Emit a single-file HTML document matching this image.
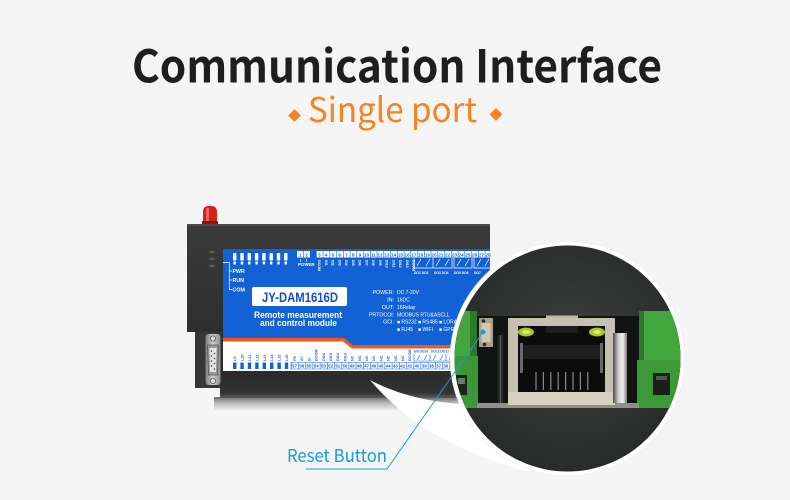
<!DOCTYPE html>
<html><head><meta charset="utf-8">
<style>
html,body{margin:0;padding:0;background:#f5f5f5;}
svg{display:block}
</style></head>
<body>
<svg width="790" height="500" viewBox="0 0 790 500" xmlns="http://www.w3.org/2000/svg">
<defs>
<linearGradient id="hous" x1="0" y1="0" x2="0" y2="1"><stop offset="0" stop-color="#3a3a3a"/><stop offset="1" stop-color="#272727"/></linearGradient>
<linearGradient id="band" x1="0" y1="0" x2="0" y2="1"><stop offset="0" stop-color="#2a2a2a"/><stop offset="0.8" stop-color="#333"/><stop offset="1" stop-color="#5a5a5a"/></linearGradient>
<linearGradient id="shd" x1="0" y1="0" x2="0" y2="1"><stop offset="0" stop-color="#6a6a6a"/><stop offset="0.4" stop-color="#b5b5b5"/><stop offset="1" stop-color="#f5f5f5"/></linearGradient>
<radialGradient id="inbg" cx="0.5" cy="0.45" r="0.55"><stop offset="0" stop-color="#3c3f3e"/><stop offset="1" stop-color="#262827"/></radialGradient>
<linearGradient id="metal" x1="0" y1="0" x2="1" y2="0"><stop offset="0" stop-color="#4a4a4a"/><stop offset="0.4" stop-color="#d0d0d0"/><stop offset="0.7" stop-color="#f0f0f0"/><stop offset="1" stop-color="#7a7a7a"/></linearGradient>
<linearGradient id="db" x1="0" y1="0" x2="1" y2="0"><stop offset="0" stop-color="#7d7d7d"/><stop offset="0.5" stop-color="#d0d0d0"/><stop offset="1" stop-color="#8a8a8a"/></linearGradient>
<pattern id="pt" x="316" y="0" width="6.75" height="10" patternUnits="userSpaceOnUse"><rect x="0" y="0" width="0.6" height="10" fill="#1262d6"/></pattern>
<pattern id="pb" x="291" y="0" width="7.2" height="10" patternUnits="userSpaceOnUse"><rect x="0" y="0" width="0.6" height="10" fill="#1262d6"/></pattern>
<clipPath id="cc"><circle cx="567.5" cy="358.5" r="113"/></clipPath>
</defs>
<rect width="790" height="500" fill="#f5f5f5"/>

<!-- Title -->
<text x="132" y="82.5" font-family="'Noto Sans CJK SC','Liberation Sans',sans-serif" font-weight="bold" font-size="45" fill="#1e1e1e" textLength="530" lengthAdjust="spacingAndGlyphs">Communication Interface</text>
<text x="308" y="122" font-family="'Noto Sans CJK SC','Liberation Sans',sans-serif" font-size="34" fill="#f7821f" textLength="169" lengthAdjust="spacingAndGlyphs">Single port</text>
<rect x="-4.5" y="-4.5" width="9" height="9" transform="translate(294.5,115.5) rotate(45)" fill="#f7821f"/>
<rect x="-4.5" y="-4.5" width="9" height="9" transform="translate(496,114.5) rotate(45)" fill="#f7821f"/>

<!-- Device shadow -->
<rect x="214" y="397" width="280" height="14" fill="url(#shd)"/>
<!-- antenna -->
<rect x="203" y="206" width="14" height="19" rx="5" fill="#d61f1b"/>
<rect x="206" y="208" width="3" height="15" fill="#f27366" opacity="0.8"/>
<rect x="202" y="221" width="16" height="4" fill="#8a1412"/>
<!-- housing -->
<path d="M187,224 H490 V398 H220 V388 H195 V332 H187 Z" fill="url(#hous)"/>
<rect x="187" y="224" width="303" height="2" fill="#4a4a4a"/>
<rect x="195" y="332" width="26" height="56" fill="#363636"/>
<rect x="220" y="371" width="270" height="27" fill="url(#band)"/>
<ellipse cx="212" cy="252" rx="3" ry="1.4" fill="#5a5a5a"/>
<ellipse cx="212" cy="259" rx="3" ry="1.4" fill="#5a5a5a"/>
<ellipse cx="212" cy="266" rx="3" ry="1.4" fill="#5a5a5a"/>
<!-- DB9 -->
<rect x="205.5" y="334" width="15" height="51" rx="3" fill="url(#db)"/>
<path d="M207.5,345 H218.5 L217.5,375 H208.5 Z" fill="#9a9a9a" stroke="#555" stroke-width="0.8"/>
<path d="M209.5,348 H216.5 L216,372 H210 Z" fill="#e4e4e4"/>
<g fill="#444"><circle cx="211.5" cy="351" r="0.8"/><circle cx="211.5" cy="356" r="0.8"/><circle cx="211.5" cy="361" r="0.8"/><circle cx="211.5" cy="366" r="0.8"/><circle cx="214.5" cy="353.5" r="0.8"/><circle cx="214.5" cy="358.5" r="0.8"/><circle cx="214.5" cy="363.5" r="0.8"/><circle cx="214.5" cy="369" r="0.8"/></g>
<circle cx="213" cy="338.5" r="2.6" fill="#ddd" stroke="#555" stroke-width="0.8"/>
<circle cx="213" cy="381" r="2.6" fill="#ddd" stroke="#555" stroke-width="0.8"/>

<!-- blue panel -->
<path d="M223,249 H490 V345 H353 L344,338 H223 Z" fill="#1262d6"/>
<path d="M223,338 H344 L353,345 H490 V348.5 H352 L343,341.5 H223 Z" fill="#f2581b"/>
<path d="M223,341.5 H343 L352,348.5 H490 V371 H223 Z" fill="#ffffff"/>

<!-- top LED marks -->
<g fill="#fff">
<rect x="233" y="253" width="3.4" height="7.5" rx="0.8"/><rect x="240.3" y="253" width="3.4" height="7.5" rx="0.8"/><rect x="247.6" y="253" width="3.4" height="7.5" rx="0.8"/><rect x="254.9" y="253" width="3.4" height="7.5" rx="0.8"/><rect x="262.2" y="253" width="3.4" height="7.5" rx="0.8"/><rect x="269.5" y="253" width="3.4" height="7.5" rx="0.8"/><rect x="276.8" y="253" width="3.4" height="7.5" rx="0.8"/><rect x="284.1" y="253" width="3.4" height="7.5" rx="0.8"/>
<rect x="233.5" y="261.5" width="2.4" height="3" /><rect x="240.8" y="261.5" width="2.4" height="3"/><rect x="248.1" y="261.5" width="2.4" height="3"/><rect x="255.4" y="261.5" width="2.4" height="3"/><rect x="262.7" y="261.5" width="2.4" height="3"/><rect x="270" y="261.5" width="2.4" height="3"/><rect x="277.3" y="261.5" width="2.4" height="3"/><rect x="284.6" y="261.5" width="2.4" height="3"/>
</g>
<path d="M223,262.5 H229.3 V290 M229.3,271 H232 M229.3,280 H232 M229.3,289.5 H232" stroke="#fff" stroke-width="0.7" fill="none"/>
<g font-family="'Liberation Sans',sans-serif" font-weight="bold" font-size="5.3" fill="#fff">
<text x="232.5" y="273">PWR</text><text x="232.5" y="282">RUN</text><text x="232.5" y="291.5">COM</text>
</g>

<!-- top terminal boxes -->
<rect x="297" y="251" width="13" height="6.5" fill="#fff"/>
<rect x="303.2" y="251" width="0.6" height="6.5" fill="#1262d6"/>
<rect x="316" y="251" width="174" height="6.5" fill="#fff"/>
<rect x="316" y="251" width="174" height="6.5" fill="url(#pt)"/>
<text font-family="'Liberation Sans',sans-serif" font-weight="bold" font-size="4.6" fill="#1262d6" text-anchor="middle" y="256.4"><tspan x="300.2">1</tspan><tspan x="306.6">2</tspan><tspan x="319.4">3</tspan><tspan x="326.1">4</tspan><tspan x="332.9">5</tspan><tspan x="339.6">6</tspan><tspan x="346.4">7</tspan><tspan x="353.1">8</tspan><tspan x="359.9">9</tspan><tspan x="366.6">10</tspan><tspan x="373.4">11</tspan><tspan x="380.1">12</tspan><tspan x="386.9">13</tspan><tspan x="393.6">14</tspan><tspan x="400.4">15</tspan><tspan x="407.1">16</tspan><tspan x="413.9">17</tspan><tspan x="420.6">18</tspan><tspan x="427.4">19</tspan><tspan x="434.1">20</tspan><tspan x="440.9">21</tspan><tspan x="447.6">22</tspan><tspan x="454.4">23</tspan><tspan x="461.1">24</tspan><tspan x="467.9">25</tspan><tspan x="474.6">26</tspan><tspan x="481.4">27</tspan><tspan x="488.1">28</tspan></text>
<text x="298" y="266" font-family="'Liberation Sans',sans-serif" font-weight="bold" font-size="4.4" fill="#fff">POWER</text>
<path d="M300.5,259 V262 M306.5,259 V262" stroke="#fff" stroke-width="0.6"/>
<g font-family="'Liberation Sans',sans-serif" font-weight="bold" font-size="3.6" fill="#fff">
<text transform="translate(318,260) rotate(90)">DCOM</text>
<text transform="translate(324.8,260) rotate(90)">DI1</text>
<text transform="translate(331.6,260) rotate(90)">DI2</text>
<text transform="translate(338.3,260) rotate(90)">DI3</text>
<text transform="translate(345.1,260) rotate(90)">DI4</text>
<text transform="translate(351.8,260) rotate(90)">DI5</text>
<text transform="translate(358.6,260) rotate(90)">DI6</text>
<text transform="translate(365.3,260) rotate(90)">DI7</text>
<text transform="translate(372.1,260) rotate(90)">DI8</text>
<text transform="translate(378.8,260) rotate(90)">DI9</text>
<text transform="translate(385.6,260) rotate(90)">DI10</text>
<text transform="translate(392.3,260) rotate(90)">DI11</text>
<text transform="translate(399.1,260) rotate(90)">DI12</text>
<text transform="translate(405.8,260) rotate(90)">DI13</text>
<text transform="translate(412.6,260) rotate(90)">DCOM</text>
</g>
<!-- relay symbols top -->
<g stroke="#fff" stroke-width="0.7" fill="none">
<path d="M414,258 V268 H433 V258 M433,268 H452 V258 M454,258 V268 H472 V258 M474,258 V268 H490"/>
<path d="M417,266 L421,259 M426,266 L430,259 M436,266 L440,259 M445,266 L449,259 M457,266 L461,259 M465,266 L469,259 M477,266 L481,259 M485,266 L489,259"/>
</g>
<g font-family="'Liberation Sans',sans-serif" font-weight="bold" font-size="3.3" fill="#fff">
<text x="414" y="274">DO1 DO2</text><text x="434" y="274">DO3 DO4</text><text x="454" y="274">DO5 DO6</text><text x="474" y="274">DO7</text>
</g>

<!-- label box -->
<rect x="252" y="287" width="95" height="19" rx="2" fill="#fff"/>
<text x="262" y="302" font-family="'Liberation Sans',sans-serif" font-weight="bold" font-size="13.5" fill="#1450c8" textLength="76" lengthAdjust="spacingAndGlyphs">JY-DAM1616D</text>
<g font-family="'Liberation Sans',sans-serif" font-weight="bold" font-size="9.3" fill="#fff">
<text x="254" y="318" textLength="88" lengthAdjust="spacingAndGlyphs">Remote measurement</text>
<text x="260" y="326" textLength="77" lengthAdjust="spacingAndGlyphs">and control module</text>
</g>
<!-- specs -->
<g font-family="'Liberation Sans',sans-serif" font-size="5.3" fill="#fff" text-anchor="end">
<text x="394" y="294">POWER:</text><text x="394" y="301.3">IN:</text><text x="394" y="309">OUT:</text><text x="394" y="316.3">PRTOCOl:</text><text x="394" y="323.6">GCI:</text>
</g>
<g font-family="'Liberation Sans',sans-serif" font-size="5" fill="#fff">
<text x="397" y="294">DC 7-30V</text><text x="397" y="301.3">16DC</text><text x="397" y="309">16Relay</text><text x="397" y="316.3">MODBUS  RTU&amp;ASCLL</text>
<text x="397" y="323.6">■ RS232</text><text x="418" y="323.6">■ RS485</text><text x="439" y="323.6">■ LORA</text>
<text x="397" y="331">■ RJ45</text><text x="418" y="331">■ WIFI</text><text x="439" y="331">■ GPRS</text>
</g>

<!-- bottom strip -->
<g fill="#1262d6">
<rect x="233" y="362.5" width="3.4" height="6.5"/><rect x="240.4" y="362.5" width="3.4" height="6.5"/><rect x="247.8" y="362.5" width="3.4" height="6.5"/><rect x="255.2" y="362.5" width="3.4" height="6.5"/><rect x="262.6" y="362.5" width="3.4" height="6.5"/><rect x="270" y="362.5" width="3.4" height="6.5"/><rect x="277.4" y="362.5" width="3.4" height="6.5"/><rect x="284.8" y="362.5" width="3.4" height="6.5"/>
</g>
<g font-family="'Liberation Sans',sans-serif" font-weight="bold" font-size="3.8" fill="#1262d6">
<text transform="translate(236.2,361) rotate(-90)">L9</text>
<text transform="translate(243.6,361) rotate(-90)">L10</text>
<text transform="translate(251,361) rotate(-90)">L11</text>
<text transform="translate(258.4,361) rotate(-90)">L12</text>
<text transform="translate(265.8,361) rotate(-90)">L13</text>
<text transform="translate(273.2,361) rotate(-90)">L14</text>
<text transform="translate(280.6,361) rotate(-90)">L15</text>
<text transform="translate(288,361) rotate(-90)">L16</text>
<text transform="translate(296,361) rotate(-90)">PE</text>
<text transform="translate(303.2,361) rotate(-90)">A+</text>
<text transform="translate(310.4,361) rotate(-90)">B-</text>
<text transform="translate(317.6,361) rotate(-90)">DCOM</text>
<text transform="translate(324.8,361) rotate(-90)">DI16</text>
<text transform="translate(332,361) rotate(-90)">DI15</text>
<text transform="translate(339.2,361) rotate(-90)">DI14</text>
<text transform="translate(346.4,361) rotate(-90)">DI13</text>
<text transform="translate(353.6,361) rotate(-90)">NC</text>
<text transform="translate(360.8,361) rotate(-90)">NC</text>
<text transform="translate(368,361) rotate(-90)">NC</text>
<text transform="translate(375.2,361) rotate(-90)">NC</text>
<text transform="translate(382.4,361) rotate(-90)">NC</text>
<text transform="translate(389.6,361) rotate(-90)">NC</text>
<text transform="translate(396.8,361) rotate(-90)">NC</text>
<text transform="translate(404,361) rotate(-90)">NC</text>
<text transform="translate(411.2,361) rotate(-90)">DCOM</text>
</g>
<g stroke="#1262d6" stroke-width="0.6" fill="none">
<path d="M414,354 V361 H430 V354 M430,361 H446 V354 M446,361 H462"/>
<path d="M417,360 L420,355 M424,360 L427,355 M433,360 L436,355 M440,360 L443,355 M449,360 L452,355"/>
</g>
<g font-family="'Liberation Sans',sans-serif" font-weight="bold" font-size="3.3" fill="#1262d6">
<text x="414" y="352.5">8/9 DO10</text><text x="431" y="352.5">DO11 DO12</text>
</g>
<rect x="291" y="362.5" width="199" height="6.5" fill="#fff" stroke="#1262d6" stroke-width="0.5"/>
<rect x="291" y="362.5" width="199" height="6.5" fill="url(#pb)"/>
<text font-family="'Liberation Sans',sans-serif" font-weight="bold" font-size="4.4" fill="#1262d6" text-anchor="middle" y="367.6"><tspan x="294.6">57</tspan><tspan x="301.8">56</tspan><tspan x="309">55</tspan><tspan x="316.2">54</tspan><tspan x="323.4">53</tspan><tspan x="330.6">52</tspan><tspan x="337.8">51</tspan><tspan x="345">50</tspan><tspan x="352.2">49</tspan><tspan x="359.4">48</tspan><tspan x="366.6">47</tspan><tspan x="373.8">46</tspan><tspan x="381">45</tspan><tspan x="388.2">44</tspan><tspan x="395.4">43</tspan><tspan x="402.6">42</tspan><tspan x="409.8">41</tspan><tspan x="417">40</tspan><tspan x="424.2">39</tspan><tspan x="431.4">38</tspan><tspan x="438.6">37</tspan><tspan x="445.8">36</tspan><tspan x="453">35</tspan><tspan x="460.2">34</tspan></text>

<!-- white tail -->
<path d="M370,380 Q410,401 462,404 L500,440 L530,472 Q425,445 370,380 Z" fill="#ffffff"/>

<!-- zoom circle -->
<circle cx="567.5" cy="358.5" r="117.5" fill="#ffffff" stroke="#e8e8e8" stroke-width="0.5"/>
<g clip-path="url(#cc)">
<rect x="440" y="230" width="260" height="260" fill="url(#inbg)"/>
<rect x="440" y="316" width="250" height="92" fill="#121413"/>
<!-- left green block -->
<rect x="440" y="311" width="37" height="97" fill="#43a63e"/>
<rect x="470" y="311" width="7" height="97" fill="#2c7a2a"/>
<rect x="440" y="356" width="38" height="52" fill="#3a9836"/>
<rect x="456" y="375" width="11" height="20" fill="#1b241b"/>
<rect x="458" y="378" width="7" height="6" fill="#6a7a68"/>
<!-- right green block -->
<rect x="639" y="311" width="50" height="97" fill="#43a63e"/>
<rect x="639" y="311" width="5" height="49" fill="#2c7a2a"/>
<rect x="637" y="360" width="52" height="48" fill="#3b9a37"/>
<rect x="653" y="373" width="17" height="22" fill="#1a1f1a"/>
<rect x="656" y="376" width="11" height="4" fill="#555"/>
<!-- floor strip -->
<rect x="477" y="403" width="162" height="5" fill="#8f8f8a"/>
<!-- reset button -->
<rect x="479" y="318" width="14" height="29" rx="1" fill="#aaa18a"/>
<rect x="481.5" y="323" width="9" height="19" fill="#d0c9b1"/>
<circle cx="483.5" cy="321" r="1.8" fill="#2a2a2a"/>
<circle cx="484.5" cy="344.5" r="1.8" fill="#2a2a2a"/>
<!-- slit -->
<rect x="498" y="335" width="5" height="68" fill="#2a2a2a"/>
<rect x="500" y="335" width="1" height="68" fill="#5a5a5a"/>
<!-- RJ45 -->
<rect x="546" y="315.5" width="32" height="5" fill="#bdb9aa"/>
<rect x="508" y="318" width="107" height="87" rx="1" fill="#c5c1b2"/>
<rect x="508" y="392" width="107" height="13" fill="#d6d1bf"/>
<rect x="518" y="326" width="87" height="66" fill="#0c0c0c"/>
<rect x="546" y="326" width="32" height="7" fill="#1d1d1d"/>
<rect x="523" y="345" width="77" height="14" fill="#1e1e1e"/>
<rect x="520" y="343" width="3" height="30" fill="#6a6a6a"/>
<rect x="600" y="343" width="3" height="30" fill="#6a6a6a"/>
<g stroke="#8a8a8a" stroke-width="1.2">
<path d="M536,372 V390 M543.4,372 V390 M550.8,372 V390 M558.2,372 V390 M565.6,372 V390 M573,372 V390 M580.4,372 V390 M587.8,372 V390"/>
</g>
<ellipse cx="526" cy="332" rx="8" ry="4.5" fill="#a9c72a"/>
<ellipse cx="526" cy="332" rx="4" ry="2" fill="#d9ef6a"/>
<ellipse cx="597" cy="332" rx="8" ry="4.5" fill="#a9c72a"/>
<ellipse cx="597" cy="332" rx="4" ry="2" fill="#d9ef6a"/>
<!-- metal bar -->
<rect x="613" y="333" width="14" height="70" fill="url(#metal)"/>
</g>

<!-- callout line -->
<path d="M306,469 H387 L483,332" stroke="#1e9ad6" stroke-width="1" fill="none"/>
<circle cx="483" cy="332" r="2.5" fill="#1e9ad6"/>
<text x="287" y="462" font-family="'Noto Sans CJK SC','Liberation Sans',sans-serif" font-size="18" fill="#1a9ad8" textLength="100" lengthAdjust="spacingAndGlyphs">Reset Button</text>
</svg>
</body></html>
